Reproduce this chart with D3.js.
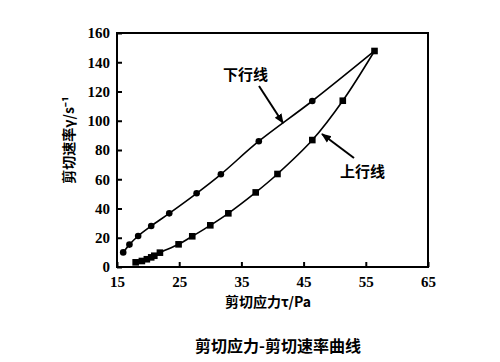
<!DOCTYPE html>
<html>
<head>
<meta charset="utf-8">
<script src="https://cdn.jsdelivr.net/npm/d3@7"></script>
<style>
  body { margin: 0; background: #fff; }
  .tick-label { font-family: "Liberation Serif", "DejaVu Serif", serif; font-weight: bold; font-size: 15px; }
  .cjk { font-family: "Noto Sans CJK SC", sans-serif; font-weight: bold; }
</style>
</head>
<body>
<svg id="chart" width="500" height="362"></svg>
<script>
// 下行线 (circles)
const downX = [16, 17, 18.4, 20.5, 23.4, 27.8, 31.7, 37.8, 46.4, 56.4];
const downY = [10, 15.3, 21.2, 28, 36.7, 50.4, 63.4, 86, 113.5, 147.7];
// 上行线 (squares)
const upX = [18, 19, 19.8, 20.5, 21, 21.9, 24.9, 27.1, 30, 32.9, 37.3, 40.8, 46.4, 51.3, 56.4];
const upY = [3.2, 4.1, 5.3, 6.6, 7.7, 9.8, 15.5, 21, 28.5, 36.7, 51, 63.6, 86.8, 113.7, 147.7];

const xTicks = [15, 25, 35, 45, 55, 65];
const yTicks = [0, 20, 40, 60, 80, 100, 120, 140, 160];

const svg = d3.select("#chart");

// plot box
const plotL = 117, plotR = 428, plotT = 33, plotB = 267;

const x = d3.scaleLinear().domain([15, 65]).range([plotL, plotR]);
const y = d3.scaleLinear().domain([0, 160]).range([plotB, plotT]);

// frame
svg.append("rect")
    .attr("x", plotL).attr("y", plotT)
    .attr("width", plotR - plotL).attr("height", plotB - plotT)
    .attr("fill", "none").attr("stroke", "#000").attr("stroke-width", 2);

// axes with inward ticks
const xAxis = svg.append("g")
    .attr("transform", `translate(0,${plotB})`)
    .call(d3.axisBottom(x).tickValues(xTicks).tickSize(-5).tickPadding(9));
const yAxis = svg.append("g")
    .attr("transform", `translate(${plotL},0)`)
    .call(d3.axisLeft(y).tickValues(yTicks).tickSize(-5).tickPadding(7));

[xAxis, yAxis].forEach(g => {
    g.attr("font-size", null).attr("font-family", null);
    g.select(".domain").remove();
    g.selectAll(".tick line").attr("stroke", "#000").attr("stroke-width", 2);
    g.selectAll(".tick text")
        .attr("class", "tick-label")
        .attr("fill", "#000");
});

// curves
const line = d3.line()
    .x(d => x(d[0]))
    .y(d => y(d[1]))
    .curve(d3.curveCatmullRom.alpha(0.5));

const downData = downX.map((v, i) => [v, downY[i]]);
const upData = upX.map((v, i) => [v, upY[i]]);

svg.append("path").datum(downData)
    .attr("d", line).attr("fill", "none")
    .attr("stroke", "#000").attr("stroke-width", 1.6);
svg.append("path").datum(upData)
    .attr("d", line).attr("fill", "none")
    .attr("stroke", "#000").attr("stroke-width", 1.6);

svg.selectAll(".dot")
    .data(downData.slice(0, -1))
    .enter().append("circle")
    .attr("class", "dot")
    .attr("cx", d => x(d[0]))
    .attr("cy", d => y(d[1]))
    .attr("r", 3.3)
    .attr("fill", "#000");

svg.selectAll(".sq")
    .data(upData)
    .enter().append("rect")
    .attr("class", "sq")
    .attr("x", d => x(d[0]) - 3.3)
    .attr("y", d => y(d[1]) - 3.3)
    .attr("width", 6.6)
    .attr("height", 6.6)
    .attr("fill", "#000");

// annotations
const defs = svg.append("defs");
defs.append("marker")
    .attr("id", "arrow")
    .attr("viewBox", "0 0 10 10")
    .attr("refX", 9).attr("refY", 5)
    .attr("markerWidth", 5).attr("markerHeight", 5)
    .attr("orient", "auto")
    .append("path")
    .attr("d", "M0,1 L10,5 L0,9 Z")
    .attr("fill", "#000");

svg.append("text").attr("class", "cjk")
    .attr("x", 223).attr("y", 80).attr("font-size", 15)
    .text("下行线");
svg.append("line")
    .attr("x1", 259).attr("y1", 86).attr("x2", 283).attr("y2", 123)
    .attr("stroke", "#000").attr("stroke-width", 2)
    .attr("marker-end", "url(#arrow)");

svg.append("text").attr("class", "cjk")
    .attr("x", 340).attr("y", 177).attr("font-size", 15)
    .text("上行线");
svg.append("line")
    .attr("x1", 354).attr("y1", 158).attr("x2", 322).attr("y2", 134)
    .attr("stroke", "#000").attr("stroke-width", 2)
    .attr("marker-end", "url(#arrow)");

// axis titles
svg.append("text").attr("class", "cjk")
    .attr("x", 268).attr("y", 307).attr("text-anchor", "middle")
    .attr("font-size", 14)
    .text("剪切应力τ/Pa");

svg.append("text").attr("class", "cjk")
    .attr("transform", "translate(74,140) rotate(-90)")
    .attr("text-anchor", "middle")
    .attr("font-size", 14)
    .text("剪切速率γ/s⁻¹");

// caption
svg.append("text").attr("class", "cjk")
    .attr("x", 278).attr("y", 352).attr("text-anchor", "middle")
    .attr("font-size", 16)
    .text("剪切应力-剪切速率曲线");
</script>
</body>
</html>
